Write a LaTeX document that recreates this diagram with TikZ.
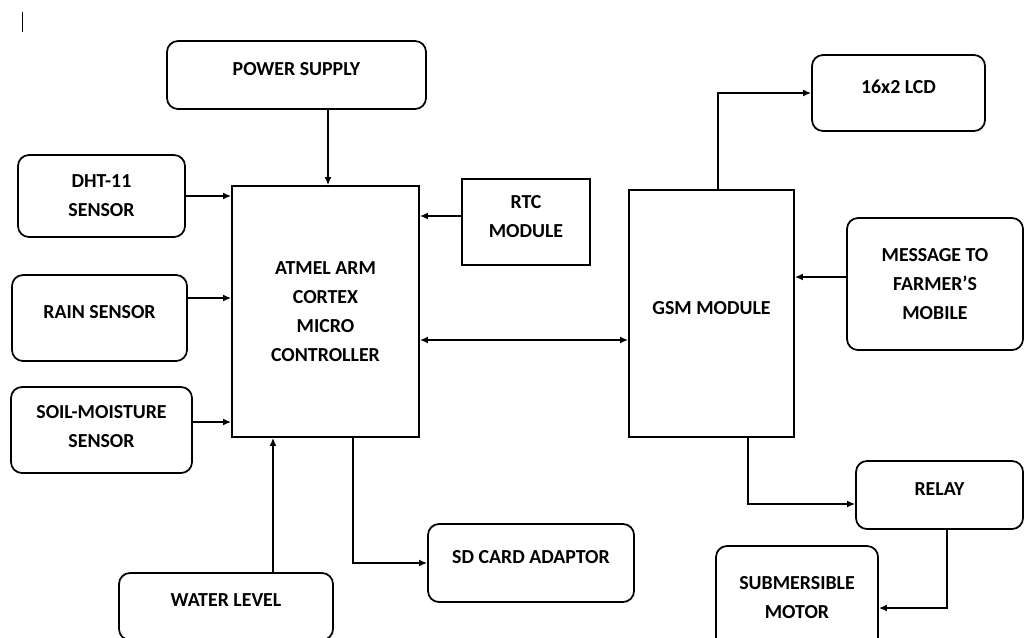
\documentclass[tikz,border=0pt]{standalone}
\usepackage{fontspec}
\setmainfont{Carlito}
\usetikzlibrary{arrows.meta}
\begin{document}
\begin{tikzpicture}[x=0.2mm,y=-0.2mm,>={Latex[length=1.6mm,width=1.4mm]},
   every node/.style={font=\bfseries\fontsize{11.3}{16.5}\selectfont},
   box/.style={draw,line width=1pt,rounded corners=2.2mm,align=center,inner sep=0pt},
   block/.style={draw,line width=1pt,align=center,inner sep=0pt},
   raised/.style={text depth=#1},raised/.default=2.4mm,
   link/.style={->,line width=0.9pt}]
\path[use as bounding box,clip] (0,0) rectangle (1025,637);
\draw[line width=0.5pt] (22,12) -- (22,32);
% inputs on the left
\node[box,raised,minimum width=51.8mm,minimum height=13.6mm] (power) at (296.5,75) {POWER SUPPLY};
\node[box,minimum width=33.4mm,minimum height=16.4mm] (dht) at (101.5,196) {DHT-11\\SENSOR};
\node[box,raised,minimum width=35mm,minimum height=17.2mm] (rain) at (99.5,318) {RAIN SENSOR};
\node[box,raised=1.4mm,minimum width=36.2mm,minimum height=17.2mm] (soil) at (101.5,430) {SOIL-MOISTURE\\SENSOR};
\node[box,raised,minimum width=42.8mm,minimum height=13.4mm] (water) at (226,606.5) {WATER LEVEL};
% controller and modules
\node[block,minimum width=37.4mm,minimum height=50.2mm] (mcu) at (325.5,311.5) {ATMEL ARM\\CORTEX\\MICRO\\CONTROLLER};
\node[block,raised,minimum width=25.6mm,minimum height=17.2mm] (rtc) at (526,222) {RTC\\MODULE};
\node[block,raised,minimum width=33mm,minimum height=49.4mm] (gsm) at (711.5,313.5) {GSM MODULE};
\node[box,raised,minimum width=41.2mm,minimum height=15.6mm] (sd) at (531,563) {SD CARD ADAPTOR};
% outputs on the right
\node[box,raised,minimum width=34.6mm,minimum height=15.2mm] (lcd) at (898.5,93) {16x2 LCD};
\node[box,minimum width=35.2mm,minimum height=26.4mm] (msg) at (935,284) {MESSAGE TO\\FARMER’S\\MOBILE};
\node[box,raised,minimum width=33.4mm,minimum height=13.6mm] (relay) at (939.5,495) {RELAY};
\node[box,minimum width=32.4mm,minimum height=20.8mm] (motor) at (797,598) {SUBMERSIBLE\\MOTOR};
\draw[link] ([xshift=0.5mm]mcu.north |- power.south) -- ([xshift=0.5mm]mcu.north);
\draw[link] (dht.east) -- (dht.east -| mcu.west);
\draw[link] ([yshift=4mm]rain.east) -- ([yshift=4mm]rain.east -| mcu.west);
\draw[link] ([yshift=1.6mm]soil.east) -- ([yshift=1.6mm]soil.east -| mcu.west);
\draw[link] ([xshift=9.4mm]water.north) -- ([xshift=9.4mm]water.north |- mcu.south);
\draw[link] ([yshift=1.2mm]rtc.west) -- ([yshift=1.2mm]rtc.west -| mcu.east);
\draw[link,<->] ([yshift=-5.7mm]mcu.east) -- ([yshift=-5.7mm]mcu.east -| gsm.west);
\draw[link] ([xshift=5.5mm]mcu.south) |- (sd.west);
\draw[link] ([xshift=1.3mm]gsm.north) |- (lcd.west);
\draw[link] ([yshift=1.4mm]msg.west) -- ([yshift=1.4mm]msg.west -| gsm.east);
\draw[link] ([xshift=7.3mm]gsm.south) |- ([yshift=-1.8mm]relay.west);
\draw[link] ([xshift=1.5mm]relay.south) |- ([yshift=-2mm]motor.east);
\end{tikzpicture}
\end{document}
